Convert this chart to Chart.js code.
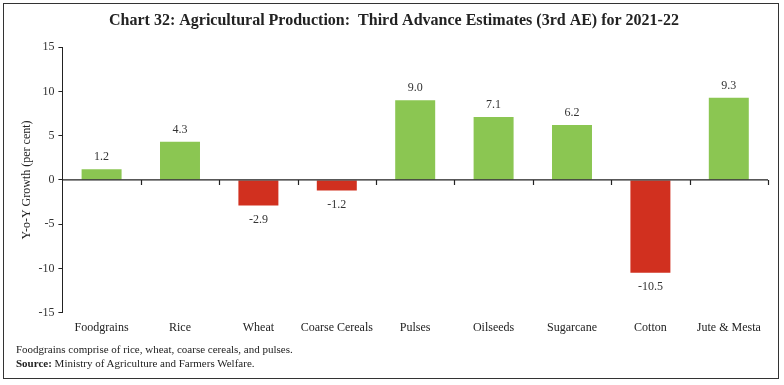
<!DOCTYPE html>
<html>
<head>
<meta charset="utf-8">
<script src="https://cdn.jsdelivr.net/npm/chart.js@4.4.1/dist/chart.umd.min.js"></script>
<style>
    body { margin: 0; background: #fff; }
    #frame {
        position: absolute; left: 3px; top: 3px;
        width: 774px; height: 374px;
        border: 1px solid #333;
    }
    #wrap { position: absolute; left: 0; top: 0; width: 784px; height: 385px; }
    .note {
        position: absolute; left: 16px;
        font-family: "Liberation Serif", serif; font-size: 11px; color: #222;
    }
</style>
</head>
<body>
<div id="frame"></div>
<div id="wrap"><canvas id="chart" width="784" height="385"></canvas></div>
<div class="note" style="top:343px;">Foodgrains comprise of rice, wheat, coarse cereals, and pulses.</div>
<div class="note" style="top:357px;"><b>Source:</b> Ministry of Agriculture and Farmers Welfare.</div>
<script>
    const categories = ['Foodgrains', 'Rice', 'Wheat', 'Coarse Cereals', 'Pulses', 'Oilseeds', 'Sugarcane', 'Cotton', 'Jute & Mesta'];
    const growth = [1.2, 4.3, -2.9, -1.2, 9.0, 7.1, 6.2, -10.5, 9.3];
    const yTicks = [-15, -10, -5, 0, 5, 10, 15];

    const green = '#8BC652';
    const red = '#D1301F';
    const serif = '"Liberation Serif", serif';

    // zero line with tick marks between categories
    const zeroAxis = {
        id: 'zeroAxis',
        afterDatasetsDraw(chart) {
            const { ctx, chartArea, scales: { x, y } } = chart;
            const y0 = y.getPixelForValue(0);
            ctx.save();
            ctx.strokeStyle = '#222';
            ctx.lineWidth = 1.2;
            ctx.beginPath();
            ctx.moveTo(chartArea.left, y0);
            ctx.lineTo(chartArea.right, y0);
            for (let i = 1; i <= categories.length; i++) {
                const px = i < categories.length
                    ? (x.getPixelForValue(i - 1) + x.getPixelForValue(i)) / 2
                    : chartArea.right;
                ctx.moveTo(Math.round(px) + 0.5, y0);
                ctx.lineTo(Math.round(px) + 0.5, y0 + 5);
            }
            ctx.stroke();
            ctx.restore();
        }
    };

    const barLabels = {
        id: 'barLabels',
        afterDatasetsDraw(chart) {
            const { ctx } = chart;
            const meta = chart.getDatasetMeta(0);
            ctx.save();
            ctx.font = '12px ' + serif;
            ctx.fillStyle = '#333';
            ctx.textAlign = 'center';
            ctx.textBaseline = 'middle';
            meta.data.forEach((bar, i) => {
                const v = growth[i];
                const ty = v >= 0 ? bar.y - 12 : bar.y + 14;
                ctx.fillText(v.toFixed(1), bar.x, ty);
            });
            ctx.restore();
        }
    };

    new Chart(document.getElementById('chart'), {
        type: 'bar',
        data: {
            labels: categories,
            datasets: [{
                data: growth,
                backgroundColor: growth.map(v => v >= 0 ? green : red),
                categoryPercentage: 1,
                barPercentage: 0.51
            }]
        },
        options: {
            responsive: false,
            animation: false,
            layout: { padding: { left: 20, right: 16, top: 0, bottom: 50 } },
            plugins: {
                legend: { display: false },
                tooltip: { enabled: false },
                title: {
                    display: true,
                    text: 'Chart 32: Agricultural Production:  Third Advance Estimates (3rd AE) for 2021-22',
                    font: { family: serif, size: 16, weight: 'bold' },
                    color: '#222',
                    padding: { top: 11, bottom: 17 }
                }
            },
            scales: {
                x: {
                    grid: { display: false },
                    border: { display: false },
                    ticks: { font: { family: serif, size: 12 }, color: '#222', padding: 0, maxRotation: 0 }
                },
                y: {
                    min: -15,
                    max: 15,
                    afterBuildTicks(axis) { axis.ticks = yTicks.map(v => ({ value: v })); },
                    grid: { drawOnChartArea: false, drawTicks: true, tickLength: 4, color: '#222' },
                    border: { display: true, color: '#222' },
                    ticks: { font: { family: serif, size: 12 }, color: '#333', padding: 4 },
                    title: {
                        display: true,
                        text: 'Y-o-Y Growth (per cent)',
                        font: { family: serif, size: 12 },
                        color: '#222',
                        padding: { top: 0, bottom: 0 }
                    }
                }
            }
        },
        plugins: [zeroAxis, barLabels]
    });
</script>
</body>
</html>
